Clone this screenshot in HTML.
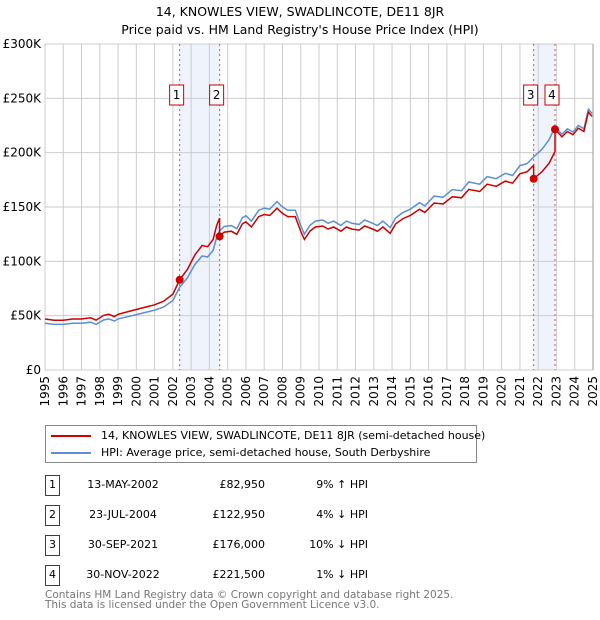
<!DOCTYPE html>
<html><head><meta charset="utf-8"><style>
body{margin:0;background:#fff;font-family:"DejaVu Sans","Liberation Sans",sans-serif;}
#wrap{position:relative;width:600px;height:620px;overflow:hidden;}
.t{position:absolute;font-size:11px;color:#000;white-space:nowrap;}
</style></head><body><div id="wrap">
<svg id="chart" width="600" height="420" style="position:absolute;left:0;top:0"></svg>
<div class="t" style="left:0;width:600px;text-align:center;top:4px;font-size:12.5px">14, KNOWLES VIEW, SWADLINCOTE, DE11 8JR</div>
<div class="t" style="left:0;width:600px;text-align:center;top:22px;font-size:12.5px">Price paid vs. HM Land Registry's House Price Index (HPI)</div>
<div style="position:absolute;left:45px;top:425px;width:430px;height:36px;border:1px solid #888;">
 <div><div style="position:absolute;left:5px;top:9px;width:40px;height:2px;background:#cc0000"></div><div class="t" style="left:55px;top:3px">14, KNOWLES VIEW, SWADLINCOTE, DE11 8JR (semi-detached house)</div></div>
 <div><div style="position:absolute;left:5px;top:26px;width:40px;height:2px;background:#5b8fd4"></div><div class="t" style="left:55px;top:20px">HPI: Average price, semi-detached house, South Derbyshire</div></div>
</div>
<div id="table"></div>
<div class="t" style="left:45px;top:590px;color:#777;line-height:10px;font-size:10.5px">Contains HM Land Registry data © Crown copyright and database right 2025.<br>This data is licensed under the Open Government Licence v3.0.</div>
</div>
<script>
const hpiYears=[1995.0,1995.5,1996.0,1996.5,1997.0,1997.5,1997.8,1998.2,1998.5,1998.8,1999.0,1999.5,2000.0,2000.5,2001.0,2001.5,2002.0,2002.37,2002.8,2003.2,2003.6,2003.9,2004.2,2004.4,2004.56,2004.8,2005.2,2005.5,2005.8,2006.0,2006.3,2006.7,2007.0,2007.3,2007.7,2008.0,2008.3,2008.7,2009.0,2009.2,2009.5,2009.8,2010.2,2010.5,2010.8,2011.2,2011.5,2011.8,2012.2,2012.5,2012.8,2013.2,2013.5,2013.9,2014.2,2014.6,2015.0,2015.5,2015.8,2016.3,2016.8,2017.3,2017.8,2018.2,2018.8,2019.2,2019.7,2020.2,2020.6,2021.0,2021.4,2021.75,2022.2,2022.6,2022.92,2023.3,2023.6,2023.9,2024.2,2024.5,2024.75,2024.95];
const hpiValues=[43,42,42,43,43,44,42,46,47,45,47,49,51,53,55,58,64,76,85,97,105,104,110,122,128,132,133,130,140,142,137,147,149,148,155,150,147,147,133,125,133,137,138,135,137,133,137,135,134,138,136,133,137,131,140,145,148,154,151,160,159,166,165,173,171,178,176,181,179,188,190,196,203,212,224,217,222,219,225,222,240,236];
const saleYears=[2002.37,2004.56,2021.75,2022.92];
const salePrices=[82.95,122.95,176.0,221.5];
const saleLabels=["1","2","3","4"];
const saleDates=["13-MAY-2002","23-JUL-2004","30-SEP-2021","30-NOV-2022"];
const salePriceText=["£82,950","£122,950","£176,000","£221,500"];
const saleHpiText=["9% ↑ HPI","4% ↓ HPI","10% ↓ HPI","1% ↓ HPI"];
const yTicks=[0,50,100,150,200,250,300];
const yTickLabels=["£0","£50K","£100K","£150K","£200K","£250K","£300K"];
const xTicks=[1995,1996,1997,1998,1999,2000,2001,2002,2003,2004,2005,2006,2007,2008,2009,2010,2011,2012,2013,2014,2015,2016,2017,2018,2019,2020,2021,2022,2023,2024,2025];

const X0=45,X1=593,Y0=370,Y1=44;
const xs=y=>X0+(y-1995)/30*(X1-X0);
const ys=v=>Y0-v/300*(Y0-Y1);
const NS="http://www.w3.org/2000/svg";
const svg=document.getElementById('chart');
function mk(tag,attrs,parent){const e=document.createElementNS(NS,tag);for(const k in attrs)e.setAttribute(k,attrs[k]);(parent||svg).appendChild(e);return e;}
function hpiAt(t){for(let i=0;i<hpiYears.length-1;i++){if(t<=hpiYears[i+1]){const f=(t-hpiYears[i])/(hpiYears[i+1]-hpiYears[i]);return hpiValues[i]+f*(hpiValues[i+1]-hpiValues[i]);}}return hpiValues[hpiValues.length-1];}

for(let i=0;i<saleYears.length;i+=2){
 const r=mk('rect',{x:xs(saleYears[i]),y:Y1,width:xs(saleYears[i+1])-xs(saleYears[i]),height:Y0-Y1,fill:'#eef3fc'});
 
 
}
xTicks.forEach(t=>{
 const l=mk('line',{x1:xs(t),x2:xs(t),y1:Y1,y2:Y0,stroke:'#cccccc','stroke-width':1});
 
 
 const tx=mk('text',{x:0,y:0,'font-size':12,'text-anchor':'end','font-family':'DejaVu Sans, Liberation Sans, sans-serif',transform:`translate(${xs(t)+4},${Y0+6}) rotate(-90)`});
 tx.textContent=t;
 
 
});
yTicks.forEach((v,i)=>{
 const l=mk('line',{x1:X0,x2:X1,y1:ys(v),y2:ys(v),stroke:'#cccccc','stroke-width':1});
 
 
 const tx=mk('text',{x:41,y:ys(v)+4,'font-size':12,'text-anchor':'end','font-family':'DejaVu Sans, Liberation Sans, sans-serif'});
 tx.textContent=yTickLabels[i];
 
 
});
mk('line',{x1:X1,x2:X1,y1:Y1,y2:Y0,stroke:'#999','stroke-width':1});
saleYears.forEach((t,i)=>{
 const l=mk('line',{x1:xs(t),x2:xs(t),y1:Y1,y2:Y0,stroke:'#e05050','stroke-width':1,'stroke-dasharray':'2,3'});
 
 
});
let d='';hpiYears.forEach((t,i)=>{d+=(i?'L':'M')+xs(t).toFixed(1)+','+ys(hpiValues[i]).toFixed(1);});
const hp=mk('path',{d:d,fill:'none',stroke:'#5b8fd4','stroke-width':1.5});


function seg(t){let k=0;for(let i=0;i<saleYears.length;i++)if(t>=saleYears[i])k=i;return k;}
const times=hpiYears.slice();saleYears.forEach(s=>{if(!times.includes(s))times.push(s);});times.sort((a,b)=>a-b);
let dp='';
times.forEach((t,j)=>{
 const k=seg(t);
 if(j>0&&saleYears.includes(t)&&k>0){const pk=k-1;const v0=salePrices[pk]*hpiAt(t)/hpiAt(saleYears[pk]);dp+='L'+xs(t).toFixed(1)+','+ys(v0).toFixed(1);}
 const v=salePrices[k]*hpiAt(t)/hpiAt(saleYears[k]);
 dp+=(j?'L':'M')+xs(t).toFixed(1)+','+ys(v).toFixed(1);
});
const pp=mk('path',{d:dp,fill:'none',stroke:'#cc0000','stroke-width':1.5});


saleYears.forEach((t,i)=>{
 const c=mk('circle',{cx:xs(t),cy:ys(salePrices[i]),r:4,fill:'#cc0000'});
 
 
 const g=mk('g',{});
 
 
 const bx=xs(t)-10;
 mk('rect',{x:bx,y:85,width:14,height:20,fill:'#fff',stroke:'#cc0000','stroke-width':1},g);
 const tx=mk('text',{x:bx+7,y:99,'font-size':12,'text-anchor':'middle','font-family':'DejaVu Sans, Liberation Sans, sans-serif'},g);
 tx.textContent=saleLabels[i];
});
const tb=document.getElementById('table');
saleYears.forEach((t,i)=>{
 const top=475+i*30;
 const row=document.createElement('div');
 
 
 row.innerHTML=`<div style="position:absolute;left:45px;top:${top}px;width:13px;height:19px;border:1px solid #cc0000"></div>
 <div class="t" style="left:45px;width:15px;text-align:center;top:${top+3}px">${saleLabels[i]}</div>
 <div class="t" style="left:83px;width:80px;text-align:center;top:${top+3}px">${saleDates[i]}</div>
 <div class="t" style="left:180px;width:85px;text-align:right;top:${top+3}px">${salePriceText[i]}</div>
 <div class="t" style="left:290px;width:78px;text-align:right;top:${top+3}px">${saleHpiText[i]}</div>`;
 tb.appendChild(row);
});
</script></body></html>
